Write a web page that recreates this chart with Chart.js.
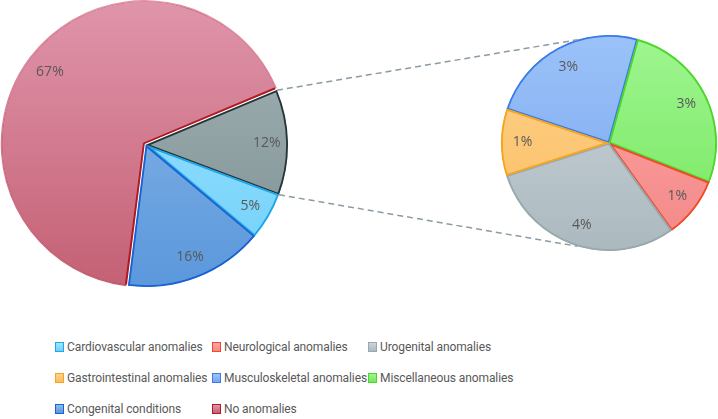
<!DOCTYPE html>
<html>
<head>
<meta charset="utf-8">
<script src="https://cdn.jsdelivr.net/npm/chart.js@4.4.0/dist/chart.umd.min.js"></script>
<style>
    body { margin: 0; width: 718px; height: 419px; overflow: hidden; background: #fff; position: relative; }
    canvas { position: absolute; }
    #mainPie { left: 0; top: 0; }
    #subPie { left: 500px; top: 34px; }
    #lines { left: 0; top: 0; pointer-events: none; }
    #legend { position: absolute; left: 0; top: 0; font-family: Roboto, sans-serif; font-size: 12px; letter-spacing: -0.1px; color: #595959; }
    .item { position: absolute; white-space: nowrap; line-height: 16px; }
    .box { display: inline-block; width: 7px; height: 8px; border: 1px solid; margin-right: 3px; vertical-align: -1px; }
</style>
</head>
<body>
<canvas id="mainPie" width="292" height="290"></canvas>
<canvas id="subPie" width="218" height="218"></canvas>
<canvas id="lines" width="718" height="300"></canvas>
<div id="legend"></div>

<script>
// Dữ liệu biểu đồ chính
const mainLabels = ['Other anomalies', 'Cardiovascular anomalies', 'Congenital conditions', 'No anomalies'];
const mainValues = [12, 5.4, 15.9, 66.7];

// Dữ liệu biểu đồ phụ (tách từ phần 12%)
const subLabels = ['Musculoskeletal anomalies', 'Miscellaneous anomalies', 'Neurological anomalies', 'Urogenital anomalies', 'Gastrointestinal anomalies'];
const subValues = [2.9, 3.2, 1.1, 3.6, 1.2];

// Thứ tự chú thích
const legendLabels = [
    'Cardiovascular anomalies', 'Neurological anomalies', 'Urogenital anomalies',
    'Gastrointestinal anomalies', 'Musculoskeletal anomalies', 'Miscellaneous anomalies',
    'Congenital conditions', 'No anomalies'
];

// Màu sắc (trên, dưới, viền)
const colors = {
    'Other anomalies': ['#a5b5b7', '#7b8e91', '#26353a'],
    'Cardiovascular anomalies': ['#a2e4ff', '#70d0fa', '#1ea6ea'],
    'Congenital conditions': ['#8fbbe8', '#5a97dc', '#1862d2'],
    'No anomalies': ['#e095ab', '#c46074', '#b01a22'],
    'Musculoskeletal anomalies': ['#9bc2f8', '#78a6ef', '#3a7be6'],
    'Miscellaneous anomalies': ['#9ef690', '#76e65e', '#4cd629'],
    'Neurological anomalies': ['#fca6a6', '#f48888', '#f04a25'],
    'Urogenital anomalies': ['#ccd6db', '#abb9bf', '#98a8ae'],
    'Gastrointestinal anomalies': ['#fdd290', '#fbbd5e', '#f5a51e']
};

function gradientFill(labels) {
    return (ctx) => {
        const chart = ctx.chart;
        const area = chart.chartArea;
        const c = colors[labels[ctx.dataIndex]];
        if (!area) return c[1];
        const g = chart.ctx.createLinearGradient(0, area.top, 0, area.bottom);
        g.addColorStop(0, c[0]);
        g.addColorStop(1, c[1]);
        return g;
    };
}

// Plugin vẽ nhãn phần trăm
const pctLabels = {
    id: 'pctLabels',
    afterDatasetsDraw(chart, args, opts) {
        const ctx = chart.ctx;
        const meta = chart.getDatasetMeta(0);
        const values = chart.data.datasets[0].data;
        ctx.save();
        ctx.font = '14px "Open Sans", sans-serif';
        ctx.fillStyle = '#595959';
        ctx.textAlign = 'center';
        ctx.textBaseline = 'middle';
        meta.data.forEach((arc, i) => {
            const p = arc.getProps(['x', 'y', 'startAngle', 'endAngle', 'outerRadius']);
            const a = (p.startAngle + p.endAngle) / 2;
            const r = p.outerRadius * opts.ratio;
            ctx.fillText(Math.round(values[i]) + '%', p.x + Math.cos(a) * r, p.y + Math.sin(a) * r);
        });
        ctx.restore();
    }
};

const mainChart = new Chart(document.getElementById('mainPie'), {
    type: 'pie',
    data: {
        labels: mainLabels,
        datasets: [{
            data: mainValues,
            backgroundColor: gradientFill(mainLabels),
            borderColor: mainLabels.map(l => colors[l][2]),
            borderWidth: 1.5,
            borderAlign: 'inner',
            offset: [0, 0, 0, 8]
        }]
    },
    options: {
        responsive: false,
        animation: false,
        radius: 142,
        rotation: 67.3,
        plugins: { legend: { display: false }, tooltip: { enabled: false }, pctLabels: { ratio: 0.85 } }
    },
    plugins: [pctLabels]
});

const subChart = new Chart(document.getElementById('subPie'), {
    type: 'pie',
    data: {
        labels: subLabels,
        datasets: [{
            data: subValues,
            backgroundColor: gradientFill(subLabels),
            borderColor: subLabels.map(l => colors[l][2]),
            borderWidth: 1.5,
            borderAlign: 'inner'
        }]
    },
    options: {
        responsive: false,
        animation: false,
        radius: 108,
        rotation: 288.4,
        plugins: { legend: { display: false }, tooltip: { enabled: false }, pctLabels: { ratio: 0.8 } }
    },
    plugins: [pctLabels]
});

// Đường nối nét đứt giữa hai biểu đồ
function drawConnectors() {
    const ctx = document.getElementById('lines').getContext('2d');
    const mainCanvas = document.getElementById('mainPie');
    const subCanvas = document.getElementById('subPie');
    const g = mainChart.getDatasetMeta(0).data[0];
    const s = subChart.getDatasetMeta(0).data[0];
    const mx = mainCanvas.offsetLeft, my = mainCanvas.offsetTop;
    const sx = subCanvas.offsetLeft, sy = subCanvas.offsetTop;
    const toRad = Math.PI / 180;
    const ends = [
        [g.startAngle, -107 * toRad],
        [g.endAngle, 107 * toRad]
    ];
    ctx.save();
    ctx.strokeStyle = '#8c9ba3';
    ctx.lineWidth = 1.5;
    ctx.setLineDash([6, 4]);
    ends.forEach(([a1, a2]) => {
        ctx.beginPath();
        ctx.moveTo(mx + g.x + Math.cos(a1) * g.outerRadius, my + g.y + Math.sin(a1) * g.outerRadius);
        ctx.lineTo(sx + s.x + Math.cos(a2) * s.outerRadius, sy + s.y + Math.sin(a2) * s.outerRadius);
        ctx.stroke();
    });
    ctx.restore();
}
drawConnectors();

// Chú thích
const legendPos = [
    [55, 339], [212, 339], [368, 339],
    [55, 370], [212, 370], [368, 370],
    [55, 401], [212, 401]
];
const legendDiv = document.getElementById('legend');
legendLabels.forEach((label, i) => {
    const c = colors[label];
    const el = document.createElement('div');
    el.className = 'item';
    el.style.left = legendPos[i][0] + 'px';
    el.style.top = legendPos[i][1] + 'px';
    el.innerHTML = `<span class="box" style="background:linear-gradient(${c[0]},${c[1]});border-color:${c[2]}"></span>${label}`;
    legendDiv.appendChild(el);
});
</script>
</body>
</html>
